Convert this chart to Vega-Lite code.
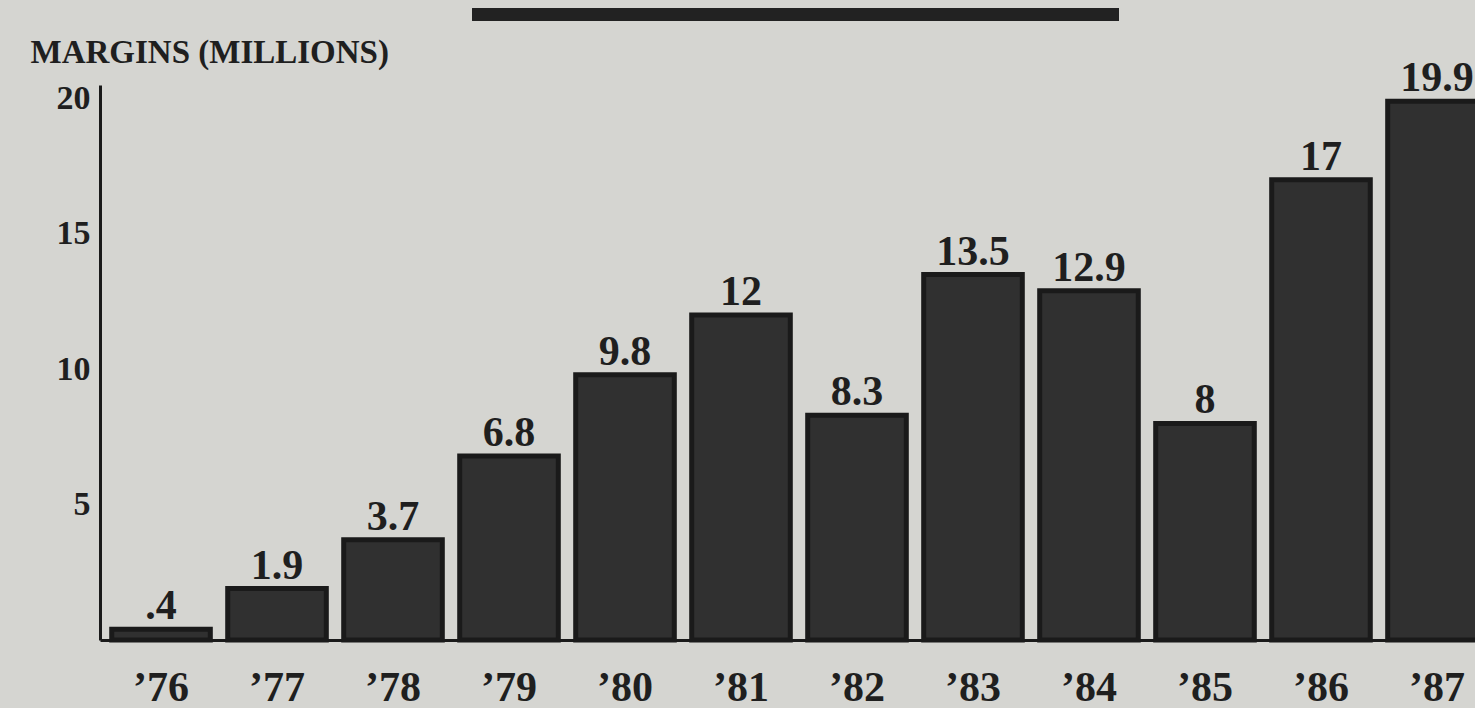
{
  "$schema": "https://vega.github.io/schema/vega-lite/v6.json",
  "autosize": {"type": "none"},
  "width": 1375,
  "height": 555,
  "padding": {"left": 100, "top": 85, "right": 0, "bottom": 68},
  "background": "#d5d5d1",
  "config": {"view": {"stroke": null}, "font": "Liberation Serif"},
  "data": {
    "values": [
      {"year": "’76", "value": 0.4, "label": ".4"},
      {"year": "’77", "value": 1.9, "label": "1.9"},
      {"year": "’78", "value": 3.7, "label": "3.7"},
      {"year": "’79", "value": 6.8, "label": "6.8"},
      {"year": "’80", "value": 9.8, "label": "9.8"},
      {"year": "’81", "value": 12, "label": "12"},
      {"year": "’82", "value": 8.3, "label": "8.3"},
      {"year": "’83", "value": 13.5, "label": "13.5"},
      {"year": "’84", "value": 12.9, "label": "12.9"},
      {"year": "’85", "value": 8, "label": "8"},
      {"year": "’86", "value": 17, "label": "17"},
      {"year": "’87", "value": 19.9, "label": "19.9"}
    ]
  },
  "layer": [
    {
      "mark": {"type": "bar", "fill": "#303030", "stroke": "#1a1a1a", "strokeWidth": 5},
      "encoding": {
        "x": {
          "field": "year",
          "type": "nominal",
          "sort": null,
          "scale": {"range": [0, 1398], "paddingInner": 0.15, "paddingOuter": 0.101},
          "axis": {
            "title": null,
            "labelAngle": 0,
            "ticks": false,
            "domain": true,
            "domainWidth": 3,
            "domainColor": "#1a1a1a",
            "labelFont": "Liberation Serif",
            "labelFontSize": 42,
            "labelFontWeight": "bold",
            "labelColor": "#1f1f1f",
            "labelPadding": 27,
            "grid": false
          }
        },
        "y": {
          "field": "value",
          "type": "quantitative",
          "scale": {"domain": [0, 20.5], "nice": false},
          "axis": {
            "title": "MARGINS (MILLIONS)",
            "titleAngle": 0,
            "titleAlign": "left",
            "titleBaseline": "alphabetic",
            "titleX": -70,
            "titleY": -23,
            "titleFont": "Liberation Serif",
            "titleFontSize": 33,
            "titleFontWeight": "bold",
            "titleColor": "#1f1f1f",
            "values": [5, 10, 15, 20],
            "ticks": false,
            "grid": false,
            "domain": true,
            "domainWidth": 3,
            "domainColor": "#1a1a1a",
            "labelFont": "Liberation Serif",
            "labelFontSize": 34,
            "labelFontWeight": "bold",
            "labelColor": "#1f1f1f",
            "labelPadding": 10
          }
        }
      }
    },
    {
      "mark": {"type": "text", "baseline": "alphabetic", "dy": -10, "fontSize": 42, "fontWeight": "bold", "font": "Liberation Serif", "color": "#1f1f1f"},
      "encoding": {
        "x": {"field": "year", "type": "nominal", "sort": null},
        "y": {"field": "value", "type": "quantitative"},
        "text": {"field": "label"}
      }
    },
    {
      "mark": {"type": "rule", "strokeWidth": 12, "color": "#222222"},
      "encoding": {
        "x": {"datum": "’79", "type": "nominal", "bandPosition": 0.13},
        "x2": {"datum": "’84", "bandPosition": 0.8},
        "y": {"datum": 23.1, "type": "quantitative"}
      }
    }
  ]
}
